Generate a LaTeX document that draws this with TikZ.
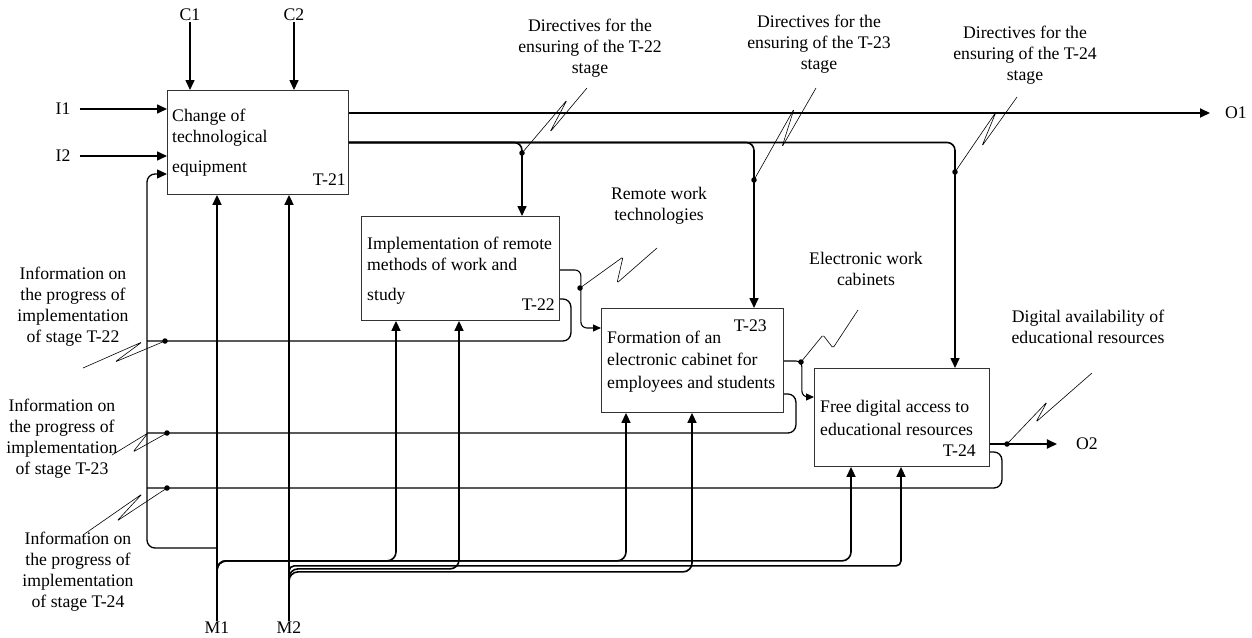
\documentclass[tikz,border=0pt]{standalone}
\usepackage{fontspec}
\setmainfont{Liberation Serif}
\usepackage{tikz}
\usetikzlibrary{arrows.meta, positioning, calc}
\newcommand{\lblfont}{\fontsize{17.7}{21}\selectfont}

\begin{document}
\begin{tikzpicture}[x=1pt, y=-1pt,
    box/.style={rectangle, draw=black!80, line width=0.9pt, inner sep=0pt, anchor=north west},
    boxtext/.style={inner sep=0pt, align=left, anchor=north west, font=\lblfont},
    tag/.style={inner sep=0pt, anchor=base east, font=\lblfont},
    lbl/.style={inner sep=1pt, align=center, font=\lblfont},
    arr/.style={line width=1.6pt, -{Triangle[length=10pt, width=9pt]}},
    thinarr/.style={line width=1.1pt, rounded corners=6pt, -{Triangle[length=8pt, width=7pt]}},
    fb/.style={line width=1.3pt, rounded corners=8pt},
    squig/.style={line width=0.6pt, rounded corners=1.5pt},
    jdot/.style={circle, fill, inner sep=0pt, minimum size=5.5pt}]

    \useasboundingbox (0,0) rectangle (1252,637);

    % activity boxes
    \node[box, minimum width=181pt, minimum height=104pt] (t21) at (167,90) {};
    \node[box, minimum width=198pt, minimum height=104pt] (t22) at (361,216) {};
    \node[box, minimum width=182pt, minimum height=104pt] (t23) at (601,308) {};
    \node[box, minimum width=175pt, minimum height=98pt] (t24) at (814,368) {};

    \node[boxtext] (t21txt) at ($(t21.north west)+(5,19)$) {Change of\\technological\\[9pt]equipment};
    \node[boxtext] (t22txt) at ($(t22.north west)+(6,21)$) {Implementation of remote\\methods of work and\\[9pt]study};
    \node[boxtext] (t23txt) at ($(t23.north west)+(6,23)$) {Formation of an\\[1pt]electronic cabinet for\\[2pt]employees and students};
    \node[boxtext] (t24txt) at ($(t24.north west)+(6,32)$) {Free digital access to\\[2pt]educational resources};

    \node[tag] (t21tag) at ($(t21.south east)+(-3,-9)$) {T-21};
    \node[tag] (t22tag) at ($(t22.south east)+(-5,-10)$) {T-22};
    \node[tag] (t23tag) at ($(t23.north east)+(-17,23)$) {T-23};
    \node[tag] (t24tag) at ($(t24.south east)+(-14,-10)$) {T-24};

    % border labels
    \node[lbl] (c1) at (190,15) {C1};
    \node[lbl] (c2) at (294,15) {C2};
    \node[lbl] (i1) at (63,109) {I1};
    \node[lbl] (i2) at (63,156) {I2};
    \node[lbl] (o1) at (1236,113) {O1};
    \node[lbl] (o2) at (1087,444) {O2};
    \node[lbl] (m1) at (217,628) {M1};
    \node[lbl] (m2) at (289,628) {M2};

    \node[lbl] (dir22) at (590,48) {Directives for the\\ensuring of the T-22\\stage};
    \node[lbl] (dir23) at (819,44) {Directives for the\\ensuring of the T-23\\stage};
    \node[lbl] (dir24) at (1025,55) {Directives for the\\ensuring of the T-24\\stage};
    \node[lbl] (rwt) at (659,206) {Remote work\\technologies};
    \node[lbl] (ewc) at (866,269) {Electronic work\\cabinets};
    \node[lbl] (dar) at (1088,327) {Digital availability of\\educational resources};
    \node[lbl] (inf22) at (73,307) {Information on\\the progress of\\implementation\\of stage T-22};
    \node[lbl] (inf23) at (62,439) {Information on\\the progress of\\implementation\\of stage T-23};
    \node[lbl] (inf24) at (78,572) {Information on\\the progress of\\implementation\\of stage T-24};

    % junction dots
    \node[jdot] (dd22) at (522,153) {};
    \node[jdot] (dd23) at (754,180) {};
    \node[jdot] (dd24) at (955,172) {};
    \node[jdot] (rwd) at (580,288) {};
    \node[jdot] (ecd) at (801,362) {};
    \node[jdot] (dad) at (1007,444) {};
    \node[jdot] (d22) at (165,341) {};
    \node[jdot] (d23) at (167,433) {};
    \node[jdot] (d24) at (167,488) {};
    \coordinate (fbcorner) at (147,548);

    % controls and inputs
    \draw[arr] (c1) -- (c1 |- t21.north);
    \draw[arr] (c2) -- (c2 |- t21.north);
    \draw[arr, shorten <=8pt] (i1) -- (i1 -| t21.west);
    \draw[arr, shorten <=8pt] (i2) -- (i2 -| t21.west);

    % outputs of T-21
    \draw[arr, line width=1.9pt] ($(t21.north east)+(0,23)$) -- ([xshift=-14pt]o1.west);
    \draw[arr, rounded corners=8pt] (t21.east) -| ($(t22.north west)+(161,0)$);
    \draw[arr, rounded corners=8pt] (t21.east) -| ($(t23.north west)+(153,0)$);
    \draw[arr, rounded corners=8pt] (t21.east) -| ($(t24.north west)+(141,0)$);

    % stage to stage
    \draw[thinarr] ($(t22.north east)+(0,54)$) -- ++(21,0) |- ($(t23.north west)+(0,20)$);
    \draw[thinarr] ($(t23.north east)+(0,53)$) -- ++(18,0) |- ($(t24.north west)+(0,29)$);
    \draw[arr, line width=1.9pt] ($(t24.north east)+(0,76)$) -- ([xshift=-18pt]o2.west);

    % feedback
    \draw[fb, -{Triangle[length=10pt, width=9pt]}] (m1.north |- fbcorner) -- (fbcorner) |- ($(t21.north west)+(0,84)$);
    \draw[fb] ($(t22.north east)+(0,83)$) -- ++(11,0) |- (d22.center) -- (d22.center -| fbcorner);
    \draw[fb] ($(t23.north east)+(0,86)$) -- ++(12,0) |- (d23.center) -- (d23.center -| fbcorner);
    \draw[fb] ($(t24.north east)+(0,84)$) -- ++(12,0) |- (d24.center) -- (d24.center -| fbcorner);

    % mechanisms
    \draw[arr] (m1) -- (m1 |- t21.south);
    \draw[arr] (m2) -- (m2 |- t21.south);
    \coordinate (m1b) at ($(m1.north)+(0,-30)$);
    \coordinate (m2b) at ($(m2.north)+(0,-30)$);
    \draw[arr, rounded corners=9pt] (m1b) |- ($(t22.south west)+(35,240)$) -- ($(t22.south west)+(35,0)$);
    \draw[arr, rounded corners=9pt] (m1b) |- ($(t23.south west)+(25,148)$) -- ($(t23.south west)+(25,0)$);
    \draw[arr, rounded corners=9pt] (m1b) |- ($(t24.south west)+(37,94)$) -- ($(t24.south west)+(37,0)$);
    \draw[arr, rounded corners=9pt] (m2b) |- ($(t22.south west)+(98,248)$) -- ($(t22.south west)+(98,0)$);
    \draw[arr, rounded corners=9pt] (m2b) |- ($(t23.south west)+(91,159)$) -- ($(t23.south west)+(91,0)$);
    \draw[arr, rounded corners=5pt] (m2b) |- ($(t24.south west)+(87,99)$) -- ($(t24.south west)+(87,0)$);

    % squiggles
    \draw[squig] (dd22.center) -- (567,100) -- (550,132) -- (587,88);
    \draw[squig] (dd23.center) -- (794,109) -- (782,147) -- (816,88);
    \draw[squig] (dd24.center) -- (996,112) -- (982,146) -- (1017,97);
    \draw[squig] (rwd.center) -- (623,257) -- (617,283) -- (657,248);
    \draw[squig] (ecd.center) -- (823,335) -- (833,348) -- (858,310);
    \draw[squig] (dad.center) -- (1047,402) -- (1036,422) -- (1092,373);
    \draw[squig] (d22.center) -- (115,362) -- (142,342) -- (83,368);
    \draw[squig] (d23.center) -- (133,452) -- (148,433) -- (112,455);
    \draw[squig] (d24.center) -- (117,521) -- (142,494) -- (83,535);
\end{tikzpicture}
\end{document}
